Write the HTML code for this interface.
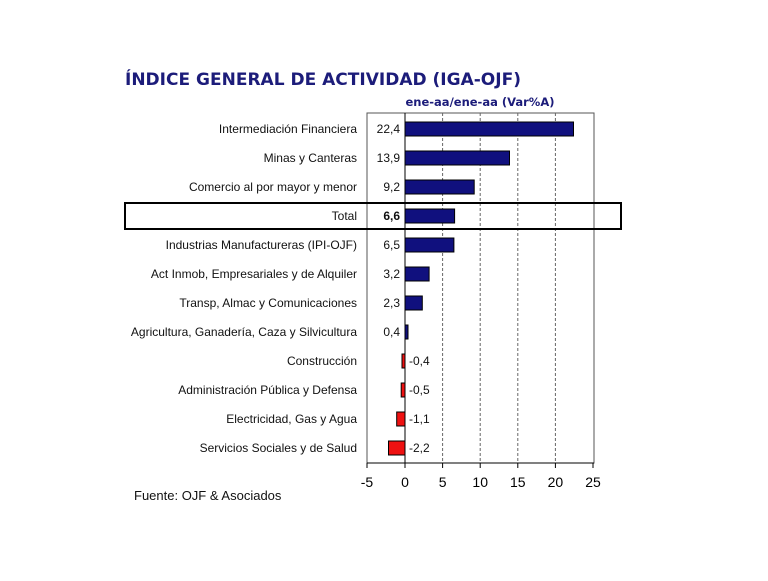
<!DOCTYPE html>
<html><head><meta charset="utf-8"><style>
body{margin:0;background:#fff;}
svg text{font-family:"Liberation Sans",Arial,sans-serif;}
</style></head><body>
<svg width="768" height="576" viewBox="0 0 768 576" xmlns="http://www.w3.org/2000/svg">
<rect width="768" height="576" fill="#fff"/>
<text x="125" y="85" font-size="17" font-weight="bold" fill="#1c1c7a" textLength="396" lengthAdjust="spacingAndGlyphs" style="font-family:'DejaVu Sans',sans-serif">ÍNDICE GENERAL DE ACTIVIDAD (IGA-OJF)</text>
<text x="480" y="106" font-size="11.5" font-weight="bold" fill="#1c1c7a" text-anchor="middle" style="font-family:'DejaVu Sans',sans-serif">ene-aa/ene-aa  (Var%A)</text>
<rect x="367" y="113" width="227" height="350" fill="none" stroke="#555" stroke-width="1"/>
<g stroke="#666" stroke-dasharray="3,2" stroke-width="1">
<line x1="442.6" y1="113" x2="442.6" y2="463"/>
<line x1="480.2" y1="113" x2="480.2" y2="463"/>
<line x1="517.8" y1="113" x2="517.8" y2="463"/>
<line x1="555.4" y1="113" x2="555.4" y2="463"/>
</g>
<line x1="405" y1="113" x2="405" y2="463" stroke="#000"/>
<g stroke="#000"><line x1="367" y1="463" x2="594" y2="463"/>
<line x1="367" y1="463" x2="367" y2="468"/><line x1="405" y1="463" x2="405" y2="468"/><line x1="442.6" y1="463" x2="442.6" y2="468"/><line x1="480.2" y1="463" x2="480.2" y2="468"/><line x1="517.8" y1="463" x2="517.8" y2="468"/><line x1="555.4" y1="463" x2="555.4" y2="468"/><line x1="593" y1="463" x2="593" y2="468"/></g>
<g font-size="14" text-anchor="middle" fill="#000">
<text x="367" y="487">-5</text><text x="405" y="487">0</text><text x="442.6" y="487">5</text><text x="480.2" y="487">10</text><text x="517.8" y="487">15</text><text x="555.4" y="487">20</text><text x="593" y="487">25</text></g>
<g stroke="#000" stroke-width="1" fill="#10107e">
<rect x="405" y="122" width="168.5" height="14"/>
<rect x="405" y="151" width="104.5" height="14"/>
<rect x="405" y="180" width="69.2" height="14"/>
<rect x="405" y="209" width="49.6" height="14"/>
<rect x="405" y="238" width="48.9" height="14"/>
<rect x="405" y="267" width="24.1" height="14"/>
<rect x="405" y="296" width="17.3" height="14"/>
<rect x="405" y="325" width="3" height="14"/>
</g>
<g stroke="#000" stroke-width="1" fill="#ee1111">
<rect x="402" y="354" width="3" height="14"/>
<rect x="401.2" y="383" width="3.8" height="14"/>
<rect x="396.7" y="412" width="8.3" height="14"/>
<rect x="388.5" y="441" width="16.5" height="14"/>
</g>
<g font-size="12" text-anchor="end" fill="#111">
<text x="400" y="133">22,4</text><text x="400" y="162">13,9</text><text x="400" y="191">9,2</text>
<text x="400" y="220" font-weight="bold">6,6</text>
<text x="400" y="249">6,5</text><text x="400" y="278">3,2</text><text x="400" y="307">2,3</text><text x="400" y="336">0,4</text>
</g>
<g font-size="12" fill="#111">
<text x="409" y="365">-0,4</text><text x="409" y="394">-0,5</text><text x="409" y="423">-1,1</text><text x="409" y="452">-2,2</text>
</g>
<g font-size="12" text-anchor="end" fill="#111">
<text x="357" y="133">Intermediación Financiera</text>
<text x="357" y="162">Minas y Canteras</text>
<text x="357" y="191">Comercio al por mayor y menor</text>
<text x="357" y="220">Total</text>
<text x="357" y="249">Industrias Manufactureras (IPI-OJF)</text>
<text x="357" y="278">Act Inmob, Empresariales y de Alquiler</text>
<text x="357" y="307">Transp, Almac y Comunicaciones</text>
<text x="357" y="336">Agricultura, Ganadería, Caza y Silvicultura</text>
<text x="357" y="365">Construcción</text>
<text x="357" y="394">Administración Pública y Defensa</text>
<text x="357" y="423">Electricidad, Gas y Agua</text>
<text x="357" y="452">Servicios Sociales y de Salud</text>
</g>
<rect x="125" y="203" width="496" height="26" fill="none" stroke="#000" stroke-width="2"/>
<text x="134" y="500" font-size="13" fill="#111">Fuente: OJF &amp; Asociados</text>
</svg>
</body></html>
